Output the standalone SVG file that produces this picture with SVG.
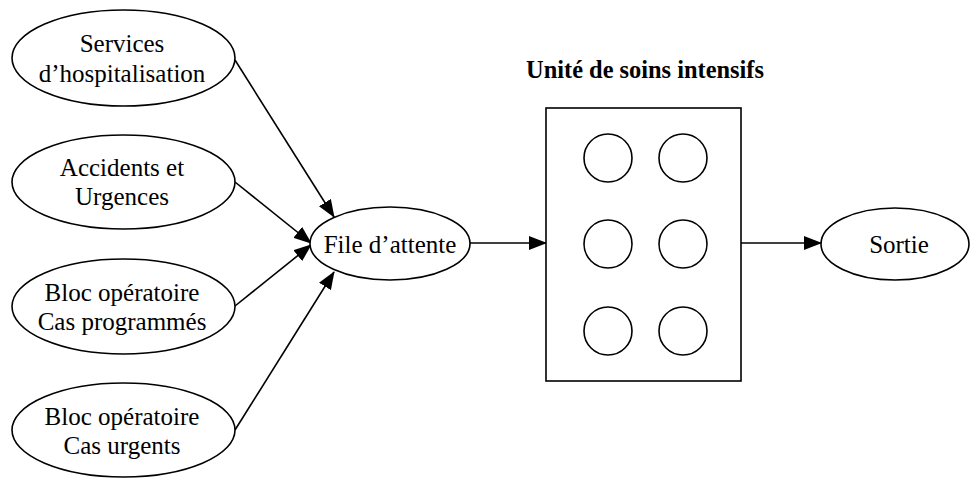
<svg xmlns="http://www.w3.org/2000/svg" width="970" height="479" viewBox="0 0 970 479">
<defs>
<marker id="ah" markerWidth="18" markerHeight="14" refX="17" refY="7" orient="auto" markerUnits="userSpaceOnUse">
<path d="M0,0 L18,7 L0,14 Z" fill="#000"/>
</marker>
<style>
.n{fill:#fff;stroke:#000;stroke-width:1.6}
.t{font-family:"Liberation Serif","Times New Roman",serif;font-size:25px;text-anchor:middle;fill:#000}
.b{font-weight:bold;font-size:24.4px}
.c line{stroke:#000;stroke-width:1.6;marker-end:url(#ah)}
</style>
</defs>
<rect width="970" height="479" fill="#fff"/>
<g id="connectors" class="c">
<line x1="235" y1="60" x2="334" y2="217"/>
<line x1="235" y1="182" x2="311" y2="243"/>
<line x1="235" y1="306" x2="311" y2="245"/>
<line x1="235" y1="430" x2="334" y2="272"/>
<line x1="470" y1="243" x2="546" y2="243"/>
<line x1="741" y1="243" x2="821" y2="243"/>
</g>
<g id="services">
<ellipse class="n" cx="123.5" cy="58" rx="111.5" ry="48"/>
<text class="t" x="122" y="52">Services</text>
<text class="t" x="122" y="82">d’hospitalisation</text>
</g>
<g id="accidents">
<ellipse class="n" cx="123.5" cy="182" rx="111.5" ry="47"/>
<text class="t" x="122" y="176">Accidents et</text>
<text class="t" x="122" y="205">Urgences</text>
</g>
<g id="bloc-programmes">
<ellipse class="n" cx="123.5" cy="306.5" rx="111.5" ry="47.5"/>
<text class="t" x="122" y="301">Bloc opératoire</text>
<text class="t" x="122" y="330">Cas programmés</text>
</g>
<g id="bloc-urgents">
<ellipse class="n" cx="123.5" cy="430" rx="111.5" ry="47"/>
<text class="t" x="122" y="425">Bloc opératoire</text>
<text class="t" x="122" y="454">Cas urgents</text>
</g>
<g id="file-attente">
<ellipse class="n" cx="390" cy="243.5" rx="80" ry="36.5"/>
<text class="t" x="390" y="253">File d’attente</text>
</g>
<g id="usi">
<text class="t b" x="645" y="78">Unité de soins intensifs</text>
<rect class="n" x="546" y="108" width="195" height="273"/>
<circle class="n" cx="608" cy="158" r="24"/>
<circle class="n" cx="683" cy="158" r="24"/>
<circle class="n" cx="608" cy="244" r="24"/>
<circle class="n" cx="683" cy="244" r="24"/>
<circle class="n" cx="608" cy="331" r="24"/>
<circle class="n" cx="683" cy="331" r="24"/>
</g>
<g id="sortie">
<ellipse class="n" cx="895" cy="244" rx="74" ry="36"/>
<text class="t" x="899" y="253">Sortie</text>
</g>
</svg>
